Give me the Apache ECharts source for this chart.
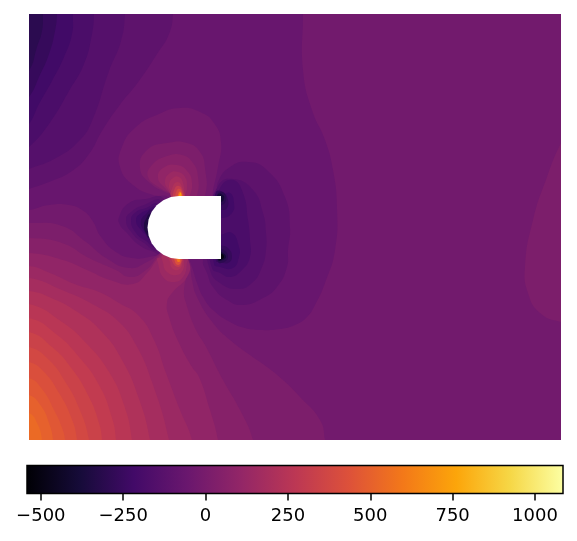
<!DOCTYPE html>
<html>
<head>
<meta charset="utf-8">
<style>
	html,body{margin:0;padding:0;background:#fff;}
	#chart{width:577px;height:541px;}
</style>
<script src="https://cdn.jsdelivr.net/npm/echarts@6/dist/echarts.min.js"></script>
</head>
<body>
<div id="chart"></div>
<script>
// inferno colormap stops
var inferno = ['#000004','#160b39','#420a68','#6a176e','#932667','#bc3754','#dd513a','#f37819','#fca50a','#f6d746','#fcffa4'];
var colorMin = -542, colorMax = 1085;
var tickValues = [-500,-250,0,250,500,750,1000];

// pressure of each filled band
var levelStep = 40, levelZero = -21;

// filled contour bands: [band number, outline (x, y)], painted in order
var farField = [0, [[-200,-200],[800,-200],[800,800],[-200,800]]];

var topLeftBands = [
	[-1, [[303,-20],[303,14],[303,70],[312,110],[325,140],[333,170],[337,207],[335,250],[325,283],[315,305],[307,317],[295,325],[280,329],[260,330],[245,328],[230,322],[213,310],[203,297],[197,283],[192,267],[188,257],[175,230],[161,252],[149,257],[132,258],[116,252],[101,237],[92,220],[82,210],[69,205],[49,205],[29,210],[-10,214],[-20,-20]]],
	[-2, [[174,-20],[173,14],[169,34],[157,54],[139,81],[119,106],[102,131],[89,154],[72,171],[49,182],[29,189],[0,200],[-20,-20]]],
	[-3, [[126,-20],[125,14],[121,41],[109,71],[92,121],[79,141],[56,158],[29,169],[0,180],[-20,-20]]],
	[-4, [[95,-20],[94,14],[92,34],[84,64],[69,91],[49,124],[29,147],[0,170],[-20,-20]]],
	[-5, [[74,-20],[73,14],[72,34],[64,57],[52,81],[39,104],[29,124],[0,160],[-20,-20]]],
	[-6, [[58,-20],[57,14],[55,31],[49,54],[39,77],[29,97],[0,130],[-20,-20]]],
	[-7, [[44,-20],[43,14],[42,31],[37,47],[29,71],[0,110],[-20,-20]]]
];

var wakeBands = [
	[-2, [[217,195],[218,182],[230,167],[248,162],[267,170],[285,197],[290,228],[288,250],[287,267],[277,287],[263,298],[243,305],[227,300],[213,287],[207,273],[203,260]]],
	[-3, [[218,186],[233,179],[253,190],[263,213],[266,233],[266,250],[262,267],[252,283],[237,289],[220,283],[210,270],[205,230]]],
	[-4, [[220,188],[233,180],[243,193],[248,220],[250,240],[250,257],[242,270],[230,277],[220,273],[212,268],[208,230]]],
	[-5, [[215,195],[222,195],[230,193],[234,203],[232,213],[222,218],[215,215]]],
	[-5, [[215,235],[220,235],[232,233],[239,247],[239,257],[233,268],[220,267],[214,264]]],
	[-6, [[216,192],[223,192],[228,200],[227,208],[222,210],[216,208]]],
	[-6, [[216,243],[220,245],[228,248],[232,257],[228,263],[220,262],[216,261]]],
	[-7, [[218,193],[224,193],[226,200],[222,205],[218,203]]],
	[-7, [[218,250],[224,250],[228,257],[224,262],[218,262]]],
	[-9, [[218,194],[223,195],[224,199],[221,202],[218,201]]],
	[-9, [[218,252],[223,253],[226,257],[223,260],[218,260]]],
	[-12, [[218,254],[222,254],[224,257],[222,259],[218,259]]]
];

var noseBands = [
	[-2, [[163,198],[146,199],[129,203],[119,217],[120,225],[126,232],[139,245],[154,252],[162,254],[175,228]]],
	[-3, [[162,201],[144,205],[131,212],[126,220],[132,233],[144,243],[158,250],[175,228]]],
	[-4, [[158,204],[146,208],[136,212],[131,220],[136,233],[146,241],[156,247],[175,228]]],
	[-5, [[155,207],[148,210],[141,213],[136,220],[141,230],[150,238],[156,244],[175,228]]],
	[-6, [[152,210],[146,214],[141,221],[144,231],[152,239],[175,228]]],
	[-8, [[151,214],[146,219],[144,226],[146,233],[151,238],[175,228]]]
];

var topLobeBands = [
	[0, [[120,167],[122,147],[136,127],[159,114],[180,108],[200,112],[214,123],[221,142],[218,167],[213,190],[210,205],[170,205],[168,197],[153,195],[133,185]]],
	[1, [[140,168],[147,150],[167,143],[187,143],[200,152],[205,168],[205,195],[195,205],[175,205],[173,196],[167,193],[150,183]]],
	[2, [[148,177],[152,165],[167,156],[182,155],[193,163],[198,177],[197,195],[190,205],[178,205],[172,195],[160,188]]],
	[3, [[158,178],[163,168],[177,165],[188,172],[192,183],[190,195],[185,205],[178,205],[173,196],[165,188]]],
	[4, [[165,182],[170,173],[178,172],[185,177],[187,187],[185,195],[180,205],[176,205],[169,191]]],
	[5, [[169,185],[173,178],[179,177],[183,183],[184,195],[180,205],[176,205],[172,194]]],
	[6, [[172,198],[173,186],[178,182],[182,187],[184,198]]],
	[8, [[174,198],[175,188],[179,186],[182,190],[183,198]]],
	[10, [[176,198],[177,190],[180,189],[182,192],[183,198]]],
	[14, [[178,198],[179,192],[181,192],[182,198]]],
	[19, [[179,198],[180,193],[181,193],[181,198]]]
];

var lowerLeftBands = [
	[1, [[-20,223],[29,223],[62,226],[86,242],[106,258],[129,268],[147,262],[160,253],[175,240],[189,262],[192,280],[197,297],[213,323],[230,340],[247,353],[267,367],[283,380],[300,397],[320,420],[325,440],[330,470],[-20,470]]],
	[2, [[-20,238],[29,238],[62,243],[89,258],[116,270],[130,277],[146,270],[159,255],[175,240],[188,262],[184,290],[186,303],[196,330],[205,345],[223,380],[240,410],[253,440],[258,470],[-20,470]]],
	[3, [[-20,253],[29,253],[63,260],[87,270],[110,280],[133,284],[147,273],[158,258],[175,240],[189,262],[187,277],[172,293],[167,303],[169,317],[179,343],[192,367],[199,377],[210,410],[218,440],[222,470],[-20,470]]],
	[4, [[-20,264],[29,266],[50,273],[77,285],[99,292],[119,303],[139,316],[154,340],[166,373],[180,410],[192,440],[196,470],[-20,470]]],
	[5, [[-20,276],[29,278],[62,290],[96,306],[119,322],[136,345],[152,382],[169,440],[172,470],[-20,470]]],
	[6, [[-20,288],[29,291],[49,297],[79,313],[102,332],[122,360],[139,399],[150,440],[153,470],[-20,470]]],
	[7, [[-20,300],[29,304],[62,322],[86,343],[109,372],[124,405],[132,440],[134,470],[-20,470]]],
	[8, [[-20,314],[29,318],[56,334],[79,357],[99,385],[112,418],[116,440],[118,470],[-20,470]]],
	[9, [[-20,326],[29,332],[52,347],[72,369],[89,397],[99,423],[102,440],[104,470],[-20,470]]],
	[10, [[-20,340],[29,347],[49,360],[66,383],[79,408],[89,440],[91,470],[-20,470]]],
	[11, [[-20,352],[29,362],[44,372],[59,393],[71,417],[77,440],[79,470],[-20,470]]],
	[12, [[-20,366],[29,378],[42,389],[54,410],[62,428],[65,440],[67,470],[-20,470]]],
	[13, [[-20,382],[29,395],[41,406],[49,423],[53,440],[55,470],[-20,470]]],
	[14, [[-20,395],[29,413],[37,423],[42,440],[44,470],[-20,470]]]
];

var lowerLobeBands = [
	[4, [[158,258],[158,263],[163,277],[173,282],[183,277],[187,263],[187,255]]],
	[5, [[163,255],[163,263],[167,272],[177,275],[183,270],[184,262],[184,255]]],
	[6, [[168,255],[170,262],[172,268],[178,270],[182,265],[182,255]]],
	[8, [[172,255],[173,263],[178,267],[181,264],[182,255]]],
	[11, [[175,255],[175,262],[178,265],[181,262],[181,255]]],
	[15, [[177,255],[177,261],[179,262],[180,261],[180,255]]]
];

var rightEdgeBand = [1, [[580,110],[561,143],[547,177],[533,220],[525,267],[528,293],[540,313],[561,322],[580,324]]];

// body outline, round nose on the left and a flat base on the right
var bodyOutline = [[221,196],[179,196],[170.9,197.1],[163.3,200.2],[156.7,205.2],[151.7,211.8],[148.6,219.4],[147.5,227.5],[148.6,235.7],[151.7,243.3],[156.7,249.8],[163.3,254.8],[170.9,257.9],[179,259],[221,259]];

var bands = [farField].concat(topLeftBands, wakeBands, [rightEdgeBand], noseBands, topLobeBands, lowerLeftBands, lowerLobeBands);
var bandData = bands.map(function(b){ return [levelZero + b[0]*levelStep]; });

var chart = echarts.init(document.getElementById('chart'), null, {renderer:'canvas'});

var option = {
	animation:false,
	backgroundColor:'#fff',
	grid:[
		{left:29, top:14, width:532, height:426},
		{left:27, top:465.5, width:536, height:28}
	],
	xAxis:[
		{type:'value', gridIndex:0, min:29, max:561, show:false},
		{type:'value', gridIndex:1, min:colorMin, max:colorMax, position:'bottom',
			splitLine:{show:false},
			axisLine:{show:false},
			axisTick:{show:true, length:7, lineStyle:{color:'#000', width:1.5}, customValues:tickValues},
			axisLabel:{show:true, customValues:tickValues, color:'#000', fontFamily:'DejaVu Sans', fontSize:18, margin:14, hideOverlap:false,
				formatter:function(v){ return String(v).replace('-','\u2212'); }}
		}
	],
	yAxis:[
		{type:'value', gridIndex:0, min:14, max:440, inverse:true, show:false},
		{type:'value', gridIndex:1, min:0, max:1, show:false}
	],
	visualMap:{show:false, seriesIndex:0, dimension:0, min:colorMin, max:colorMax, inRange:{color:inferno}},
	series:[
		{
			type:'custom',
			xAxisIndex:0, yAxisIndex:0,
			clip:true,
			silent:true,
			data:bandData,
			renderItem:function(params, api){
				var pts = bands[params.dataIndex][1].map(function(p){ return api.coord(p); });
				return {type:'polygon', shape:{points:pts, smooth:0.5, smoothConstraint:false}, style:{fill:api.visual('color')}};
			}
		},
		{
			type:'custom',
			xAxisIndex:0, yAxisIndex:0,
			clip:true,
			silent:true,
			z:5,
			data:[0],
			renderItem:function(params, api){
				return {type:'polygon', shape:{points:bodyOutline.map(function(p){ return api.coord(p); })}, style:{fill:'#fff'}};
			}
		},
		{
			type:'custom',
			xAxisIndex:1, yAxisIndex:1,
			silent:true,
			data:[0],
			renderItem:function(params, api){
				var a = api.coord([colorMin,1]), b = api.coord([colorMax,0]);
				return {
					type:'rect',
					shape:{x:a[0], y:a[1], width:b[0]-a[0], height:b[1]-a[1]},
					style:{
						fill:new echarts.graphic.LinearGradient(0,0,1,0, inferno.map(function(c,i){
							return {offset:i/(inferno.length-1), color:c};
						})),
						stroke:'#000',
						lineWidth:1.5
					}
				};
			}
		}
	]
};
chart.setOption(option);
</script>
</body>
</html>
